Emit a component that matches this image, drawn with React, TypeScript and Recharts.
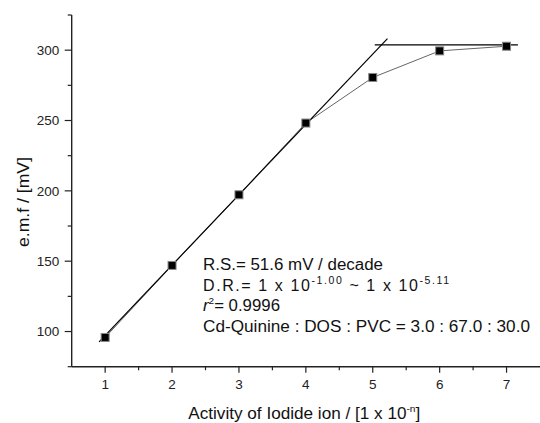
import React from "react";
import { ComposedChart, Line, XAxis, YAxis } from "recharts";

// measured points: activity exponent n vs e.m.f (mV)
const activity = [1, 2, 3, 4, 5, 6, 7];
const emf = [95.8, 147, 197.2, 248.2, 280.6, 299.5, 302.8];

// linear fit segment and the plateau line
const fitX = [0.91, 5.22];
const fitY = [92.7, 308.2];
const plateauX = [5.03, 7.17];
const plateauY = [303.7, 303.7];

const xTicks = [1, 1.5, 2, 2.5, 3, 3.5, 4, 4.5, 5, 5.5, 6, 6.5, 7];
const yTicks = [75, 100, 125, 150, 175, 200, 225, 250, 275, 300, 325];

const FONT = "'Liberation Sans', Arial, sans-serif";
const AXIS = "#222";

const data = activity.map((x, i) => ({ x, y: emf[i] }));
const fit = fitX.map((x, i) => ({ x, y: fitY[i] }));
const plateau = plateauX.map((x, i) => ({ x, y: plateauY[i] }));

function XTick(props: any) {
  const { x, y, payload } = props;
  const major = Number.isInteger(payload.value);
  return (
    <g>
      <line x1={x} x2={x} y1={y} y2={y + (major ? 6 : 3.5)} stroke={AXIS} strokeWidth={1.2} />
      {major && (
        <text x={x} y={y + 22} textAnchor="middle" fontSize={13.5} fontFamily={FONT} fill="#222">
          {payload.value}
        </text>
      )}
    </g>
  );
}

function YTick(props: any) {
  const { x, y, payload } = props;
  const major = payload.value % 50 === 0;
  return (
    <g>
      <line x1={x} x2={x - (major ? 7 : 4)} y1={y} y2={y} stroke={AXIS} strokeWidth={1.2} />
      {major && (
        <text x={x - 12.5} y={y + 4.8} textAnchor="end" fontSize={13.5} fontFamily={FONT} fill="#222">
          {payload.value}
        </text>
      )}
    </g>
  );
}

function Marker(props: any) {
  const { cx, cy, index } = props;
  if (cx == null || cy == null) return <g key={index} />;
  return <rect key={index} x={cx - 4} y={cy - 4} width={8} height={8} fill="#000" stroke="#888" strokeWidth={1} />;
}

export default function App() {
  return (
    <div style={{ position: "absolute", left: 0, top: 0, width: 540, height: 423, background: "#fff" }}>
      <ComposedChart width={540} height={423} margin={{ top: 15, right: 0, bottom: 0, left: 0 }}>
        <XAxis
          type="number"
          dataKey="x"
          domain={[0.5, 7.5]}
          ticks={xTicks}
          interval={0}
          tickSize={0}
          tickMargin={0}
          tick={<XTick />}
          height={56.3}
          axisLine={{ stroke: AXIS, strokeWidth: 1.4 }}
          allowDataOverflow
        />
        <YAxis
          type="number"
          dataKey="y"
          domain={[75, 325]}
          ticks={yTicks}
          interval={0}
          tickSize={0}
          tickMargin={0}
          tick={<YTick />}
          width={71.7}
          axisLine={{ stroke: AXIS, strokeWidth: 1.4 }}
          allowDataOverflow
        />
        <Line data={data} dataKey="y" stroke="#666" strokeWidth={1} dot={false} isAnimationActive={false} />
        <Line data={fit} dataKey="y" stroke="#000" strokeWidth={1.2} dot={false} isAnimationActive={false} />
        <Line data={plateau} dataKey="y" stroke="#000" strokeWidth={1.2} dot={false} isAnimationActive={false} />
        <Line data={data} dataKey="y" stroke="none" dot={<Marker />} isAnimationActive={false} />
      </ComposedChart>
      <svg width={540} height={423} style={{ position: "absolute", left: 0, top: 0, pointerEvents: "none" }}>
        <g fontFamily={FONT} fill="#111" fontSize={16}>
          <text x={203} y={270} textLength={180} lengthAdjust="spacingAndGlyphs">
            R.S.= 51.6 mV / decade
          </text>
          <text x={203} y={290.5} textLength={246} lengthAdjust="spacing">
            D.R.= 1 x 10
            <tspan dy={-7} fontSize={10.5}>-1.00</tspan>
            <tspan dy={7}> ~ 1 x 10</tspan>
            <tspan dy={-7} fontSize={10.5}>-5.11</tspan>
          </text>
          <text x={203} y={311} textLength={77} lengthAdjust="spacingAndGlyphs">
            <tspan fontStyle="italic">r</tspan>
            <tspan dy={-7} fontSize={9.5}>2</tspan>
            <tspan dy={7}>= 0.9996</tspan>
          </text>
          <text x={203} y={331.5} textLength={327} lengthAdjust="spacingAndGlyphs">
            Cd-Quinine : DOS : PVC = 3.0 : 67.0 : 30.0
          </text>
          <text x={188.3} y={419} textLength={232} lengthAdjust="spacingAndGlyphs">
            Activity of Iodide ion / [1 x 10
            <tspan dy={-7} fontSize={9.5}>-n</tspan>
            <tspan dy={7}>]</tspan>
          </text>
          <text
            x={29}
            y={202}
            textAnchor="middle"
            transform="rotate(-90, 29, 202)"
            textLength={90}
            lengthAdjust="spacingAndGlyphs"
          >
            e.m.f / [mV]
          </text>
        </g>
      </svg>
    </div>
  );
}
